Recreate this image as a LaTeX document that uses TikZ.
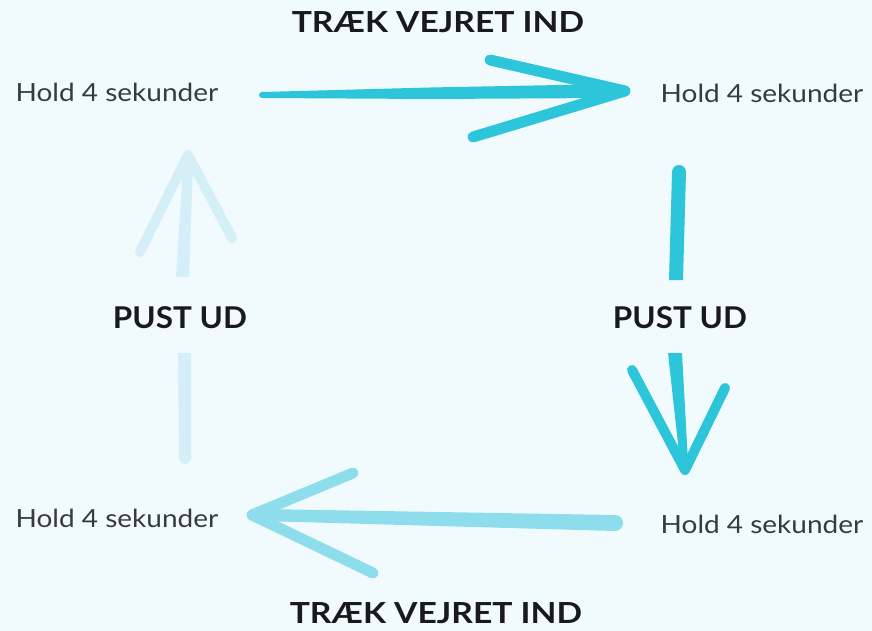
\documentclass[tikz,border=0pt]{standalone}
\usepackage{fontspec}
\setmainfont{Lato}
\newfontfamily\holdfont[FakeStretch=1.12]{Lato}
\newfontfamily\headfont[FakeStretch=1.05]{Lato Bold}
\newfontfamily\titlefont[FakeStretch=1.16]{Lato Bold}
\definecolor{bg}{RGB}{241,251,253}
\definecolor{cyanA}{RGB}{44,197,217}
\definecolor{cyanB}{RGB}{142,221,236}
\definecolor{cyanC}{RGB}{212,239,248}
\definecolor{ink}{RGB}{26,26,30}
\definecolor{inkgray}{RGB}{55,58,62}
\tikzset{
  hold/.style={anchor=base, inner sep=0pt, text=inkgray, font=\holdfont\fontsize{25}{25}\selectfont},
  head/.style={anchor=base, inner sep=0pt, text=ink, font=\headfont\fontsize{30}{30}\selectfont},
  title/.style={anchor=base, inner sep=0pt, text=ink, font=\titlefont\fontsize{29}{29}\selectfont},
  barb/.style={line width=11pt, line cap=round},
}
\begin{document}
\begin{tikzpicture}[x=1pt,y=-1pt]
  \fill[bg] (0,0) rectangle (872,631);
  \useasboundingbox (0,0) rectangle (872,631);

  % labels
  \node[title] (inTop) at (438,33) {TRÆK VEJRET IND};
  \node[title] (inBot) at (436,623) {TRÆK VEJRET IND};
  \node[head] (outL) at (180,328) {PUST UD};
  \node[head] (outR) at (680,328) {PUST UD};
  \node[hold] (hTL) at (117,102) {Hold 4 sekunder};
  \node[hold] (hTR) at (762,103) {Hold 4 sekunder};
  \node[hold] (hBL) at (117,527) {Hold 4 sekunder};
  \node[hold] (hBR) at (762,533) {Hold 4 sekunder};

  % top arrow: inhale, left to right
  \coordinate (tS) at (262,95);
  \coordinate (tT) at (625,91);
  \coordinate (tB1) at (490,60);
  \coordinate (tB2) at (473,137);
  \fill[cyanA] (262,92) -- (430,87.5) -- (612,84) -- (612,98) -- (430,99) -- (262,98) -- cycle;
  \fill[cyanA] (tS) circle (3);
  \fill[cyanA] (614,91) circle (7);
  \draw[cyanA, barb] (tB1) -- (tT);
  \draw[cyanA, barb] (tB2) -- (tT);

  % right arrow: exhale, top to bottom
  \coordinate (rS) at (679,172);
  \coordinate (rT) at (685,470);
  \coordinate (rB1) at (632,370);
  \coordinate (rB2) at (725,388);
  \fill[cyanA] (672,172) -- (686,172) -- (683,280) -- (669,280) -- cycle;
  \fill[cyanA] (rS) circle (7);
  \fill[cyanA] (668,353) -- (682,353) -- (688,462) -- (680,462) -- cycle;
  \draw[cyanA, barb, line width=10pt] (rB1) -- (rT);
  \draw[cyanA, barb, line width=10pt] (rB2) -- (rT);

  % bottom arrow: inhale, right to left
  \coordinate (bS) at (615,523);
  \coordinate (bT) at (252,515);
  \coordinate (bB1) at (353,473);
  \coordinate (bB2) at (373,573);
  \fill[cyanB] (615,515) -- (262,509) -- (262,521) -- (615,531) -- cycle;
  \fill[cyanB] (bS) circle (8);
  \draw[cyanB, barb] (bB1) -- (bT);
  \draw[cyanB, barb] (bB2) -- (bT);

  % left arrow: exhale, bottom to top
  \coordinate (lS) at (185,458);
  \coordinate (lT) at (188,155);
  \coordinate (lB1) at (140,252);
  \coordinate (lB2) at (232,238);
  \fill[cyanC] (178,353) -- (191,353) -- (191,458) -- (179,458) -- cycle;
  \fill[cyanC] (lS) circle (6);
  \fill[cyanC] (176,277) -- (189,277) -- (193,165) -- (183,165) -- cycle;
  \draw[cyanC, barb, line width=10pt] (lB1) -- (lT);
  \draw[cyanC, barb, line width=10pt] (lB2) -- (lT);
\end{tikzpicture}
\end{document}
